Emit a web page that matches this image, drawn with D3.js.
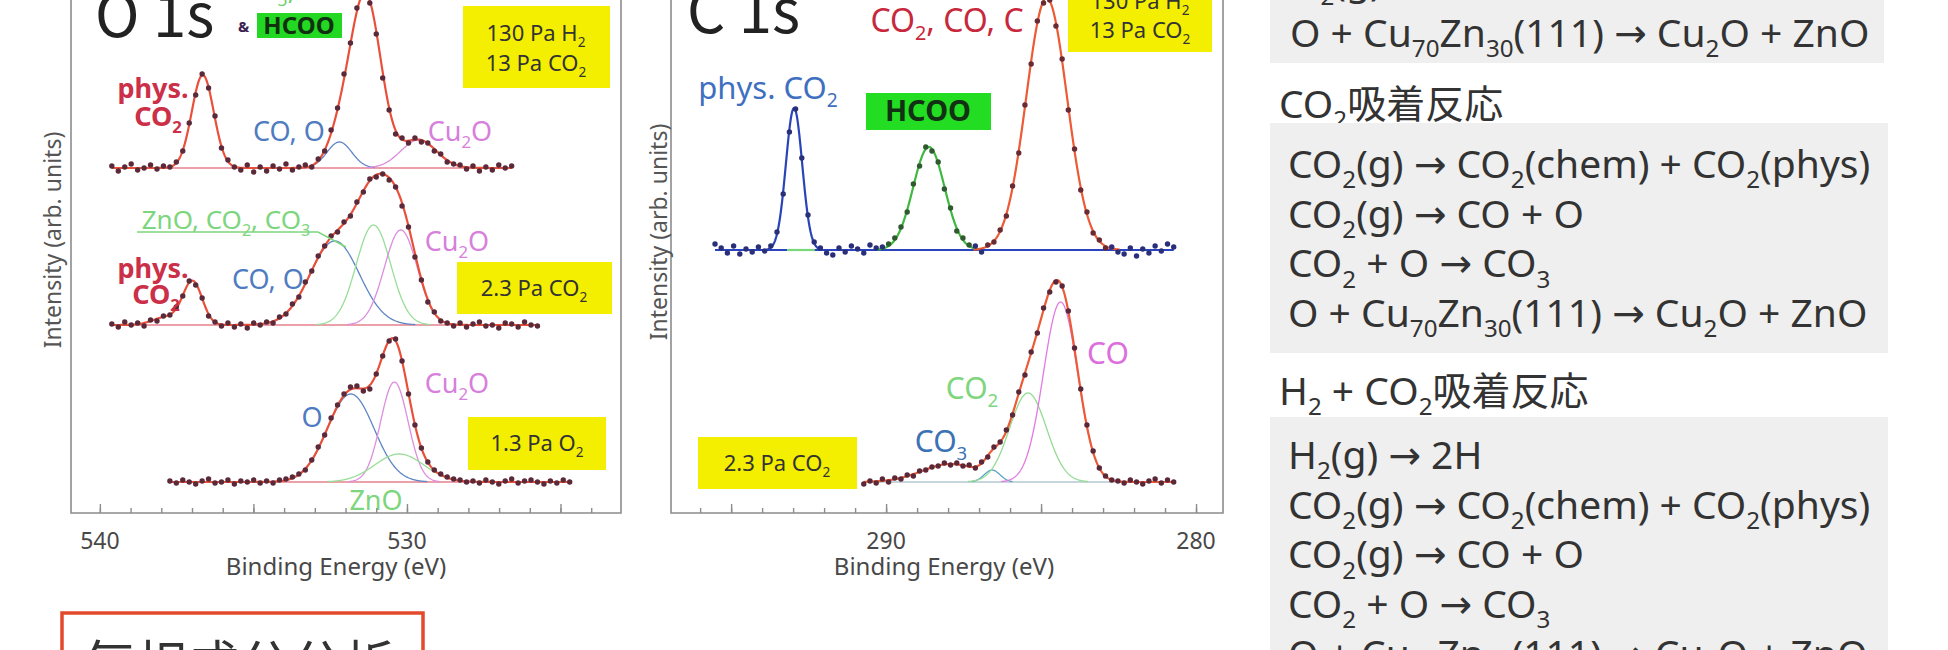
<!DOCTYPE html>
<html><head><meta charset="utf-8">
<script src="https://cdn.jsdelivr.net/npm/d3@7"></script>
<style>
html,body{margin:0;padding:0;background:#fff;}
svg{display:block;}
</style></head><body>
<svg id="fig" width="1948" height="650"></svg>
<script>
// ---------------- O 1s spectra ----------------
// measured points: start energy (eV), step (eV), intensity above each spectrum's own baseline
const o1sStep = 0.21;
const o1sTopStart = 539.61;   // 130 Pa H2 + 13 Pa CO2
const o1sTopCounts = [2,-3,1,4,-2,0,3,-1,2,1, 6,17,45,73,94,80,52,20,8,1, -2,3,-4,1,-3,2,-1,4,-2,1,
  3,1,9,17,38,60,94,125,160,176,165,134,90,58,34,30,25,30,26,25,17,14,6,4,3,-1,2,-3,1,-2,3,0,2];
const o1sMidStart = 539.61;   // 2.3 Pa CO2
const o1sMidCounts = [1,-2,3,0,2,-1,5,4,9, 10,18,29,44,40,27,9,3,-1, 2,-2,1,-3,2,0,
  3,2,8,11,21,28,43,54,69,79,89,93,103,109,123,133,146,148,151,145,138,119,98,68,45,23,13,4,2,-1,
  2,-2,1,3,-1,0,-3,2,1,-2,3,0,-1];
const o1sBotStart = 537.72;   // 1.3 Pa O2
const o1sBotCounts = [1,-1,2,0,-2,1,3,-1,0,2,-2,1,0,2,-1,
  1,-1,2,3,5,8,12,22,35,47,64,77,88,95,96,91,93,108,126,141,143,121,88,57,34,20,12,8,5,3,2,0,
  1,-1,2,0,-2,1,3,-1,1,2,0,-2,1,-1,2,0];
const o1sOffsets = [345, 188, 31];

// fitted components: species, centre (eV), height, FWHM (eV)
const o1sTopFit = [
  {comp:"phys", center:536.65, height:93,  fwhm:0.84},
  {comp:"hcooO", center:531.35, height:172, fwhm:1.18},
  {comp:"coO",  center:532.20, height:26,  fwhm:0.95},
  {comp:"cu2o", center:529.62, height:28,  fwhm:1.37}
];
const o1sMidFit = [
  {comp:"phys", center:536.98, height:43,  fwhm:0.74},
  {comp:"phys", center:537.82, height:8,   fwhm:1.05},
  {comp:"coO",  center:532.35, height:84,  fwhm:1.89},
  {comp:"zno",  center:531.09, height:100, fwhm:1.32},
  {comp:"cu2o", center:530.20, height:95,  fwhm:1.26}
];
const o1sBotFit = [
  {comp:"coO",  center:531.83, height:88,  fwhm:1.79},
  {comp:"cu2o", center:530.41, height:100, fwhm:1.05},
  {comp:"zno",  center:530.25, height:28,  fwhm:1.89}
];

// ---------------- C 1s spectra ----------------
const c1sStep = 0.2;
const c1sTopStart = 295.52;   // 130 Pa H2 + 13 Pa CO2
const c1sTopCounts = [6,2,-3,4,-4,1,-2,3, -1,4,18,56,118,141,92,35,8,2, -3,-5,2,-2,4,1,-3,5,2,
  3,6,12,23,38,66,84,103,99,88,61,42,19,12,5,4,-2,5,8,20,34,64,97,145,186,229,247,250,224,191,140,101,60,38,17,10,2,3,-2,
  -4,2,-6,1,-3,4,-1,6,3];
const c1sBotStart = 290.72;   // 2.3 Pa CO2
const c1sBotCounts = [-2,1,-1,3,0,4,3,7,6,11,12,15,16,19,17,19,16,17,14,20,25,35,40,52,67,90,107,130,149,174,
  190,200,196,171,134,93,57,31,14,6,2,1,-1,2,0,-2,1,3,-1,2,0];
const c1sOffsets = [263, 31];

const c1sTopFit = [
  {comp:"physC", center:292.97, height:142, fwhm:0.62},
  {comp:"hcooC", center:288.62, height:103, fwhm:1.20},
  {comp:"mainC", center:284.82, height:252, fwhm:1.55}
];
const c1sTopGreenBase = [293.2, 292.3];
const c1sBotFit = [
  {comp:"hump", center:287.92, height:18,  fwhm:2.20},
  {comp:"co3",  center:286.58, height:12,  fwhm:0.60},
  {comp:"co2",  center:285.42, height:89,  fwhm:1.40},
  {comp:"co",   center:284.37, height:180, fwhm:1.30}
];

// axis ticks
const o1sMinor = d3.range(524, 541, 1), o1sMajor = [525, 530, 535, 540], o1sLabels = [540, 530];
const c1sMinor = d3.range(280, 297, 1), c1sMajor = [280, 285, 290, 295], c1sLabels = [290, 280];

// reaction schemes
const schemeTopTail = "O_2(g) → 2O";
const schemeTopLast = "O + Cu_{70}Zn_{30}(111) → Cu_2O + ZnO";
const co2Title = "CO_2吸着反応";
const co2Lines = ["CO_2(g) → CO_2(chem) + CO_2(phys)", "CO_2(g) → CO + O", "CO_2 + O → CO_3",
  "O + Cu_{70}Zn_{30}(111) → Cu_2O + ZnO"];
const h2co2Title = "H_2 + CO_2吸着反応";
const h2co2Lines = ["H_2(g) → 2H", "CO_2(g) → CO_2(chem) + CO_2(phys)", "CO_2(g) → CO + O", "CO_2 + O → CO_3",
  "O + Cu_{70}Zn_{30}(111) → Cu_2O + ZnO"];

// ---------------- drawing ----------------
const svg = d3.select("#fig");
const FONT = "'Noto Sans','DejaVu Sans','Noto Sans CJK JP',sans-serif";
const JFONT = "'Noto Sans CJK JP','Noto Sans',sans-serif";
const compColor = {
  phys:null, hcooO:null, coO:"#5f86c4", cu2o:"#dc8ee0", zno:"#98de98",
  physC:"#2a44b8", hcooC:"#3fb83f", mainC:"#ec5a36",
  hump:null, co3:"#5aa2c4", co2:"#94dc94", co:"#e27ae2"
};
const frameColor = "#8c8c8c";

svg.append("rect").attr("width", 1948).attr("height", 650).attr("fill", "#fff");

// text with "_x" / "_{xx}" subscripts
function rich(g, str, x, y, size, fill, opt = {}) {
  const t = g.append("text").attr("x", x).attr("y", y).attr("font-size", size).attr("fill", fill)
    .attr("text-anchor", opt.anchor || "start").attr("font-family", opt.font || FONT)
    .attr("font-weight", opt.weight || "normal");
  const re = /_\{([^}]*)\}|_(.)/g;
  const subSize = size * 0.62, dy = size * 0.26;
  let last = 0, m, shifted = 0;
  while ((m = re.exec(str)) !== null) {
    if (m.index > last) { t.append("tspan").attr("dy", -shifted).text(str.slice(last, m.index)); shifted = 0; }
    t.append("tspan").attr("font-size", subSize).attr("dy", dy - shifted).text(m[1] || m[2]);
    shifted = dy; last = re.lastIndex;
  }
  if (last < str.length) t.append("tspan").attr("dy", -shifted).text(str.slice(last));
  return t;
}
// centred label, y = visual centre of capitals
function label(g, str, cx, cy, size, fill, opt = {}) {
  return rich(g, str, cx, cy + size * 0.36, size, fill, Object.assign({anchor:"middle"}, opt));
}

const gauss = (E, p) => { const r = (E - p.center) / p.fwhm; return p.height * Math.exp(-4 * Math.LN2 * r * r); };
const fitSum = (E, peaks) => d3.sum(peaks, p => gauss(E, p));

const yScale = d3.scaleLinear().domain([0, 500]).range([513, 13]);
const xO = d3.scaleLinear().domain([540.94, 523.03]).range([71, 621]);
const xC = d3.scaleLinear().domain([296.94, 279.13]).range([671, 1223]);

function drawSpectrum(g, x, start, step, counts, offset, peaks, st) {
  const E = counts.map((_, i) => start - i * step);
  const eHi = d3.max(E), eLo = d3.min(E);
  const fine = d3.range(eHi, eLo - 1e-9, -0.02);
  const line = d3.line().x(d => x(d[0])).y(d => yScale(offset + d[1]));
  g.append("path").attr("d", line([[eHi, 0], [eLo, 0]])).attr("fill", "none")
    .attr("stroke", st.base).attr("stroke-width", st.baseWidth || 1.5);
  (st.extraBase || []).forEach(seg => {
    g.append("path").attr("d", line([[seg.range[0], 0], [seg.range[1], 0]])).attr("fill", "none")
      .attr("stroke", seg.color).attr("stroke-width", 2.2);
  });
  peaks.forEach(p => {
    const col = compColor[p.comp]; if (!col) return;
    const pts = fine.filter(e => gauss(e, p) > 0.4).map(e => [e, gauss(e, p)]);
    if (!pts.length) return;
    g.append("path").attr("d", line(pts)).attr("fill", "none").attr("stroke", col)
      .attr("stroke-width", st.compWidth || 1.3);
  });
  if (st.envelope) {
    g.append("path").attr("d", line(fine.map(e => [e, fitSum(e, peaks)]))).attr("fill", "none")
      .attr("stroke", st.envelope).attr("stroke-width", 2.2);
  }
  g.selectAll(null).data(counts).enter().append("circle")
    .attr("cx", (d, i) => x(E[i])).attr("cy", d => yScale(offset + d)).attr("r", 2.7)
    .attr("fill", (d, i) => typeof st.dot === "function" ? st.dot(E[i]) : st.dot);
}

function drawFrame(x, minor, major, labels, titleX) {
  const [l, r] = x.range();
  const g = svg.append("g");
  g.append("path").attr("d", `M${l},-5V513H${r}V-5`).attr("fill", "none")
    .attr("stroke", frameColor).attr("stroke-width", 1.6);
  const ax = g.append("g").attr("transform", "translate(0,513)");
  ax.call(d3.axisBottom(x).tickValues(minor).tickSize(-5).tickSizeOuter(0).tickFormat(""));
  const ax2 = g.append("g").attr("transform", "translate(0,513)");
  ax2.call(d3.axisBottom(x).tickValues(major).tickSize(-9).tickSizeOuter(0).tickFormat(""));
  g.selectAll(".domain").remove();
  g.selectAll(".tick line").attr("stroke", frameColor).attr("stroke-width", 1.4);
  g.selectAll(null).data(labels).enter().append("text")
    .attr("x", d => x(d)).attr("y", 549).attr("text-anchor", "middle")
    .attr("font-family", FONT).attr("font-size", 23).attr("fill", "#484848").text(d => d);
  g.append("text").attr("x", titleX).attr("y", 575).attr("text-anchor", "middle")
    .attr("font-family", FONT).attr("font-size", 24).attr("fill", "#484848").text("Binding Energy (eV)");
}

function yLabel(cx, cy) {
  svg.append("text").attr("transform", `translate(${cx},${cy}) rotate(-90)`).attr("text-anchor", "middle")
    .attr("dy", "0.35em").attr("font-family", FONT).attr("font-size", 23).attr("fill", "#555")
    .text("Intensity (arb. units)");
}

function box(g, x0, y0, x1, y1, fill) {
  g.append("rect").attr("x", x0).attr("y", y0).attr("width", x1 - x0).attr("height", y1 - y0).attr("fill", fill);
}

// ----- O 1s panel -----
const gO = svg.append("g");
const yel = "#f4ef00";
box(gO, 463, 6, 610, 88, yel);
label(gO, "130 Pa H_2", 536, 33, 22, "#333");
label(gO, "13 Pa CO_2", 536, 63, 22, "#333");
box(gO, 457, 262, 612, 314, yel);
label(gO, "2.3 Pa CO_2", 534, 288, 22, "#333");
box(gO, 468, 417, 606, 470, yel);
label(gO, "1.3 Pa O_2", 537, 443, 22, "#333");

const oStyle = {base:"#e4808e", envelope:"#e9503a", dot:"#5a2a3a"};
drawSpectrum(gO, xO, o1sTopStart, o1sStep, o1sTopCounts, o1sOffsets[0], o1sTopFit, oStyle);
drawSpectrum(gO, xO, o1sMidStart, o1sStep, o1sMidCounts, o1sOffsets[1], o1sMidFit, oStyle);
drawSpectrum(gO, xO, o1sBotStart, o1sStep, o1sBotCounts, o1sOffsets[2], o1sBotFit, oStyle);
drawFrame(xO, o1sMinor, o1sMajor, o1sLabels, 336);
yLabel(53, 240);

rich(gO, "O 1s", 95, 37, 60, "#222", {font:JFONT});
label(gO, "CO_3, ZnO", 298, -11, 28, "#6ccf6c");
rich(gO, "&", 238, 32, 15, "#3a2050", {weight:"bold"});
box(gO, 257, 13, 342, 38, "#22d822");
label(gO, "HCOO", 299, 25, 24, "#103010", {weight:"bold"});
const red = "#cc3048", blue = "#4f7cc0", mag = "#d77fdc", grn = "#7dd67d";
label(gO, "phys.", 153, 88, 27, red, {weight:"bold"});
label(gO, "CO_2", 158, 116, 27, red, {weight:"bold"});
label(gO, "CO, O", 289, 131, 27, blue);
label(gO, "Cu_2O", 460, 131, 27, mag);
label(gO, "ZnO, CO_2, CO_3", 226, 220, 26, grn);
gO.append("path").attr("d", "M137,232H318L346,247").attr("fill", "none").attr("stroke", grn).attr("stroke-width", 1.5);
label(gO, "Cu_2O", 457, 241, 27, mag);
label(gO, "phys.", 153, 268, 27, red, {weight:"bold"});
label(gO, "CO_2", 156, 294, 27, red, {weight:"bold"});
label(gO, "CO, O", 268, 279, 27, blue);
label(gO, "O", 312, 417, 27, blue);
label(gO, "Cu_2O", 457, 383, 27, mag);
label(gO, "ZnO", 376, 500, 27, grn);

// ----- C 1s panel -----
const gC = svg.append("g");
box(gC, 1068, -20, 1212, 52, yel);
label(gC, "130 Pa H_2", 1140, 1, 22, "#333");
label(gC, "13 Pa CO_2", 1140, 30, 22, "#333");
box(gC, 698, 437, 857, 489, yel);
label(gC, "2.3 Pa CO_2", 777, 463, 22, "#333");

const cTopDot = e => {
  const v = c1sTopFit.map(p => gauss(e, p));
  const k = d3.maxIndex(v);
  if (v[k] < 3) return "#2a2f7a";
  return ["#2a2f7a", "#2f5a2f", "#6a2a34"][k];
};
drawSpectrum(gC, xC, c1sTopStart, c1sStep, c1sTopCounts, c1sOffsets[0], c1sTopFit,
  {base:"#2a44c0", baseWidth:2.2, compWidth:2.2, dot:cTopDot,
   extraBase:[{range:c1sTopGreenBase, color:"#7ad87a"}]});
drawSpectrum(gC, xC, c1sBotStart, c1sStep, c1sBotCounts, c1sOffsets[1], c1sBotFit,
  {base:"#b4c8d0", envelope:"#ec5a36", dot:"#5a2838"});
drawFrame(xC, c1sMinor, c1sMajor, c1sLabels, 944);
yLabel(659, 232);

rich(gC, "C 1s", 687, 33, 60, "#222", {font:JFONT});
label(gC, "CO_2, CO, C", 947, 20, 32, "#c8283c");
label(gC, "phys. CO_2", 768, 88, 31, "#3f6fc0");
box(gC, 866, 93, 991, 130, "#22dd22");
label(gC, "HCOO", 928, 111, 29, "#123012", {weight:"bold"});
label(gC, "CO", 1108, 353, 30, "#dd6fdd");
label(gC, "CO_2", 972, 388, 30, "#7fd67f");
label(gC, "CO_3", 941, 441, 30, "#3a72b4");

// ----- reaction schemes -----
const gR = svg.append("g");
const gray = "#efefef", ink = "#333", rs = 39;
box(gR, 1270, -10, 1884, 63, gray);
rich(gR, schemeTopTail, 1290, -5, rs, ink);
rich(gR, schemeTopLast, 1290, 47, rs, ink);
rich(gR, co2Title, 1279, 118, rs, ink);
box(gR, 1270, 123, 1888, 353, gray);
co2Lines.forEach((s, i) => rich(gR, s, 1288, 178 + i * 49.7, rs, ink));
rich(gR, h2co2Title, 1279, 405, rs, ink);
box(gR, 1270, 417, 1888, 680, gray);
h2co2Lines.forEach((s, i) => rich(gR, s, 1288, 469 + i * 49.7, rs, ink));

// ----- gas-phase analysis caption -----
svg.append("rect").attr("x", 62).attr("y", 613).attr("width", 361).attr("height", 70)
  .attr("fill", "#fff").attr("stroke", "#e34a2c").attr("stroke-width", 3.5);
svg.append("text").attr("x", 83).attr("y", 684).attr("font-family", JFONT).attr("font-size", 52)
  .attr("fill", "#333").text("気相成分分析");
</script>
</body></html>
